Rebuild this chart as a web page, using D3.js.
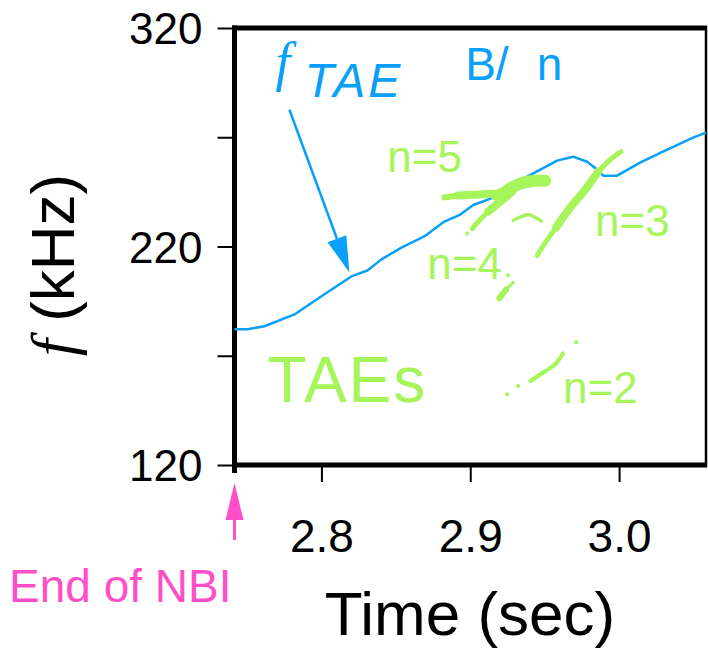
<!DOCTYPE html>
<html>
<head>
<meta charset="utf-8">
<script src="https://cdn.jsdelivr.net/npm/d3@7/dist/d3.min.js"></script>
<style>
body { margin: 0; background: #fff; }
text { font-family: "Liberation Sans", Arial, sans-serif; }
</style>
</head>
<body>
<svg width="708" height="648"></svg>
<script>
// axis setup
var timeDomain = [2.7416, 3.0584];
var freqDomain = [120, 320];
var xTicks = [2.8, 2.9, 3.0];
var xTickLabels = ["2.8", "2.9", "3.0"];
var yTicks = [120, 170, 220, 270, 320];
var yTickLabels = ["120", "", "220", "", "320"];

// f_TAE curve (time in sec, freq in kHz)
var fTaeTime = [2.7416, 2.7503, 2.7617, 2.7819, 2.8000, 2.8201, 2.8309, 2.8403, 2.8537, 2.8691,
                2.8826, 2.8933, 2.9020, 2.9154, 2.9383, 2.9584, 2.9691, 2.9785, 2.9852, 2.9893,
                2.9987, 3.0141, 3.0295, 3.0497, 3.0584];
var fTaeFreq = [182.1, 182.1, 183.5, 188.9, 197.2, 206.3, 209.0, 214.1, 219.5, 224.6,
                231.4, 234.6, 239.0, 242.4, 252.0, 259.3, 261.1, 258.8, 255.2, 252.4,
                252.4, 258.4, 263.4, 269.8, 272.1];

// TAE traces [time, freq]
var n5Band = [[2.8826, 242.4], [2.8919, 243.3], [2.9034, 243.7], [2.9148, 244.2]];
var n5Blob = [[2.9168, 243.3], [2.9255, 246.0], [2.9336, 248.8], [2.9436, 250.1], [2.9503, 250.1]];
var n5Tail = [[2.9282, 245.1], [2.9201, 240.5], [2.9121, 236.0], [2.9054, 231.4], [2.9013, 228.2]];
var n3Trace = [[3.0013, 263.4], [2.9940, 259.7], [2.9859, 254.2], [2.9772, 246.0], [2.9671, 237.8],
               [2.9577, 228.7], [2.9510, 222.3], [2.9450, 215.9]];
var n4Hat = [[2.9289, 231.9], [2.9336, 233.4], [2.9389, 234.6], [2.9436, 233.4], [2.9477, 231.6]];
var n4Low = [[2.9289, 203.6], [2.9242, 200.4], [2.9195, 196.3]];
var n2Trace = [[2.9403, 158.4], [2.9503, 162.9], [2.9570, 166.1], [2.9624, 171.1]];
var tracePoints = [[2.8980, 225.9], [2.9255, 206.8], [2.9248, 152.4], [2.9322, 156.1], [2.9711, 176.2]];

// labels in data coords
var modeLabels = ["n=5", "n=4", "n=3", "n=2"];
var modeLabelTime = [2.8443, 2.8711, 2.9839, 2.9624];
var modeLabelFreq = [254.2, 204.9, 224.6, 148.3];
var nbiTime = 2.7416;
var arrowFrom = [2.7785, 282.6];
var arrowTo = [2.8188, 208.1];

var blue = "#0aa0fa", green = "#a6f55a", pink = "#ff4fc8";

var svg = d3.select("svg");

var x = d3.scaleLinear().domain(timeDomain).range([234.5, 706]);
var y = d3.scaleLinear().domain(freqDomain).range([465, 28]);

// y axis ticks + labels
var yAxis = d3.axisLeft(y)
    .tickValues(yTicks)
    .tickSize(17)
    .tickPadding(15)
    .tickFormat(function(d, i) { return yTickLabels[i]; });
var gy = svg.append("g")
    .attr("transform", "translate(234.5,0)")
    .call(yAxis);
gy.select(".domain").remove();
gy.selectAll(".tick line").attr("stroke", "#000").attr("stroke-width", 2);
gy.selectAll(".tick text")
    .attr("font-size", 44)
    .attr("font-family", "Liberation Sans, Arial, sans-serif")
    .attr("fill", "#000")
    .attr("dy", "0.36em");

// x axis
var xAxis = d3.axisBottom(x)
    .tickValues(xTicks)
    .tickSize(17)
    .tickPadding(37)
    .tickFormat(function(d, i) { return xTickLabels[i]; });
var gx = svg.append("g")
    .attr("transform", "translate(0,465)")
    .call(xAxis);
gx.select(".domain").remove();
gx.selectAll(".tick line").attr("stroke", "#000").attr("stroke-width", 2);
gx.selectAll(".tick text")
    .attr("font-size", 46)
    .attr("font-family", "Liberation Sans, Arial, sans-serif")
    .attr("fill", "#000");

// frame
svg.append("line").attr("x1", x(timeDomain[0])).attr("x2", x(timeDomain[0]))
    .attr("y1", 25.5).attr("y2", 473).attr("stroke", "#000").attr("stroke-width", 5);
svg.append("line").attr("x1", 232).attr("x2", 707)
    .attr("y1", y(320)).attr("y2", y(320)).attr("stroke", "#000").attr("stroke-width", 5);
svg.append("line").attr("x1", 232).attr("x2", 707)
    .attr("y1", y(120)).attr("y2", y(120)).attr("stroke", "#000").attr("stroke-width", 5);
svg.append("line").attr("x1", x(timeDomain[1])).attr("x2", x(timeDomain[1]))
    .attr("y1", 26).attr("y2", 467).attr("stroke", "#000").attr("stroke-width", 2.5);

// f_TAE line
var line = d3.line()
    .x(function(d) { return x(d[0]); })
    .y(function(d) { return y(d[1]); });
var fTae = fTaeTime.map(function(t, i) { return [t, fTaeFreq[i]]; });
svg.append("path")
    .datum(fTae)
    .attr("fill", "none")
    .attr("stroke", blue)
    .attr("stroke-width", 2.5)
    .attr("stroke-linejoin", "round")
    .attr("d", line);

// TAE traces - thickness varies along the trace, so split into pieces
var smooth = d3.line()
    .x(function(d) { return x(d[0]); })
    .y(function(d) { return y(d[1]); })
    .curve(d3.curveCatmullRom);
var traces = [
    {pts: n5Band.slice(0, 2), w: 6},
    {pts: n5Band.slice(1), w: 8},
    {pts: n5Blob.slice(0, 3), w: 10},
    {pts: n5Blob.slice(1), w: 12},
    {pts: n5Tail.slice(0, 3), w: 8},
    {pts: n5Tail.slice(2), w: 5},
    {pts: n3Trace.slice(0, 3), w: 5},
    {pts: n3Trace.slice(2, 6), w: 8},
    {pts: n3Trace.slice(5), w: 5},
    {pts: n4Hat, w: 3.5},
    {pts: n4Low.slice(0, 2), w: 3},
    {pts: n4Low.slice(1), w: 6},
    {pts: n2Trace, w: 4}
];
traces.forEach(function(tr) {
    svg.append("path")
        .datum(tr.pts)
        .attr("fill", "none")
        .attr("stroke", green)
        .attr("stroke-width", tr.w)
        .attr("stroke-linecap", "round")
        .attr("stroke-linejoin", "round")
        .attr("d", smooth);
});
svg.selectAll(".dot")
    .data(tracePoints)
    .enter().append("circle")
    .attr("class", "dot")
    .attr("cx", function(d) { return x(d[0]); })
    .attr("cy", function(d) { return y(d[1]); })
    .attr("r", 2)
    .attr("fill", green);

// mode labels
svg.selectAll(".mode")
    .data(modeLabels)
    .enter().append("text")
    .attr("class", "mode")
    .attr("x", function(d, i) { return x(modeLabelTime[i]); })
    .attr("y", function(d, i) { return y(modeLabelFreq[i]); })
    .attr("font-size", 44)
    .attr("fill", green)
    .text(function(d) { return d; });
svg.append("text")
    .attr("x", x(2.7638)).attr("y", y(148.8))
    .attr("font-size", 64)
    .attr("letter-spacing", 2)
    .attr("fill", green)
    .text("TAEs");

// f_TAE label + arrow
var lab = svg.append("text")
    .attr("x", x(2.7691)).attr("y", y(296.3))
    .attr("fill", blue);
lab.append("tspan")
    .attr("font-family", "Liberation Serif, Times New Roman, serif")
    .attr("font-style", "italic")
    .attr("font-size", 54)
    .text("f");
lab.append("tspan")
    .attr("dx", 14).attr("dy", 17)
    .attr("font-style", "italic")
    .attr("font-size", 48)
    .attr("letter-spacing", 3)
    .text("TAE");

var bn = svg.append("text")
    .attr("x", x(2.8966)).attr("y", y(296.3))
    .attr("font-size", 46)
    .attr("fill", blue);
bn.append("tspan").text("B/");
bn.append("tspan").attr("dx", 28).text("n");

var ax0 = x(arrowFrom[0]), ay0 = y(arrowFrom[1]);
var ax1 = x(arrowTo[0]), ay1 = y(arrowTo[1]);
var ang = Math.atan2(ay1 - ay0, ax1 - ax0);
var headLen = 36, headW = 10;
var bx = ax1 - headLen * Math.cos(ang), by = ay1 - headLen * Math.sin(ang);
svg.append("line")
    .attr("x1", ax0).attr("y1", ay0).attr("x2", bx).attr("y2", by)
    .attr("stroke", blue).attr("stroke-width", 2.5);
svg.append("path")
    .attr("d", "M" + ax1 + "," + ay1 +
        "L" + (bx + headW * Math.sin(ang)) + "," + (by - headW * Math.cos(ang)) +
        "L" + (bx - headW * Math.sin(ang)) + "," + (by + headW * Math.cos(ang)) + "Z")
    .attr("fill", blue);

// end of NBI marker
var nx = x(nbiTime);
svg.append("line")
    .attr("x1", nx).attr("x2", nx).attr("y1", 540).attr("y2", 515)
    .attr("stroke", pink).attr("stroke-width", 3);
svg.append("path")
    .attr("d", "M" + nx + ",483L" + (nx - 9) + ",520L" + (nx + 9) + ",520Z")
    .attr("fill", pink);
svg.append("text")
    .attr("x", 9).attr("y", 602)
    .attr("font-size", 46)
    .attr("fill", pink)
    .text("End of NBI");

// axis titles
svg.append("text")
    .attr("x", 470).attr("y", 635)
    .attr("text-anchor", "middle")
    .attr("font-size", 62)
    .attr("fill", "#000")
    .text("Time (sec)");

var yt = svg.append("text")
    .attr("transform", "translate(74,265) rotate(-90)")
    .attr("text-anchor", "middle")
    .attr("font-size", 62)
    .attr("fill", "#000");
yt.append("tspan")
    .attr("font-family", "Liberation Serif, Times New Roman, serif")
    .attr("font-style", "italic")
    .text("f");
yt.append("tspan").text(" (kHz)");
</script>
</body>
</html>
